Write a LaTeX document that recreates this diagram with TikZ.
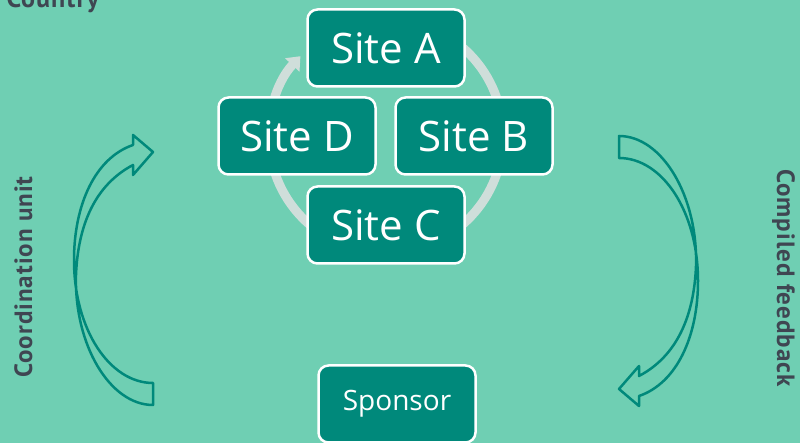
\documentclass[tikz,border=0pt]{standalone}
\usepackage{fontspec}
\setmainfont{Open Sans}
\newfontfamily\labelfont{PT Sans}[LetterSpace=4]
\usepackage{tikz}
\usetikzlibrary{shapes,arrows,arrows.meta}
\definecolor{bgmint}{RGB}{111,207,179}
\definecolor{boxteal}{RGB}{0,137,123}
\definecolor{ringgray}{RGB}{207,222,218}
\definecolor{labelgray}{RGB}{63,70,82}
\tikzset{
	site/.style     = {draw=white, line width=2.5pt, fill=boxteal, text=white,
		rounded corners=10pt, minimum width=157pt, minimum height=77pt,
		font=\fontsize{42}{42}\selectfont},
	sponsor/.style  = {site, font=\fontsize{28}{28}\selectfont},
	side/.style     = {text=labelgray, font=\labelfont\bfseries\fontsize{25}{26}\selectfont},
	bent/.style     = {draw=boxteal, line width=2.5pt, line join=round}
}
\newcommand{\ringtip}{Triangle[width=19pt,length=12pt]}

\begin{document}
\begin{tikzpicture}[x=1pt, y=1pt, >=latex]

	\fill[bgmint] (0,0) rectangle (800,443);
	\useasboundingbox (0,0) rectangle (800,443);

	% ring behind the sites
	\draw[ringgray, line width=9pt, -{\ringtip}]
		(386,307) ++(100:117) arc[start angle=100, end angle=-223, radius=117];

	\draw
	node at (386,395) [site] (sA) {Site A}
	node at (474,307) [site] (sB) {Site B}
	node at (386,218) [site] (sC) {Site C}
	node at (297,307) [site] (sD) {Site D}
	node at (397,39) [sponsor] (sp) {Sponsor};

	% hollow bent arrows
	\draw[bent] (133,298) -- (133,308) -- (153,291) -- (133,268) -- (133,278)
		.. controls (95,258) and (78,218) .. (76,168)
		.. controls (74,98) and (110,38) .. (153,38) -- (153,60)
		.. controls (110,60) and (74,113) .. (74,183)
		.. controls (74,238) and (95,285) .. (133,298) -- cycle;
	\draw[bent, rotate around={180:(386,172.5)}] (133,298) -- (133,308) -- (153,291) -- (133,268) -- (133,278)
		.. controls (95,258) and (78,218) .. (76,168)
		.. controls (74,98) and (110,38) .. (153,38) -- (153,60)
		.. controls (110,60) and (74,113) .. (74,183)
		.. controls (74,238) and (95,285) .. (133,298) -- cycle;

	\draw
	node at (3,435) [side, anchor=base west, font=\labelfont\bfseries\fontsize{26}{26}\selectfont] (cty) {Country}
	node at (32,166) [side, anchor=base, rotate=90] (cu) {Coordination unit}
	node at (777,165) [side, anchor=base, rotate=-90] (cf) {Compiled feedback};

\end{tikzpicture}
\end{document}
